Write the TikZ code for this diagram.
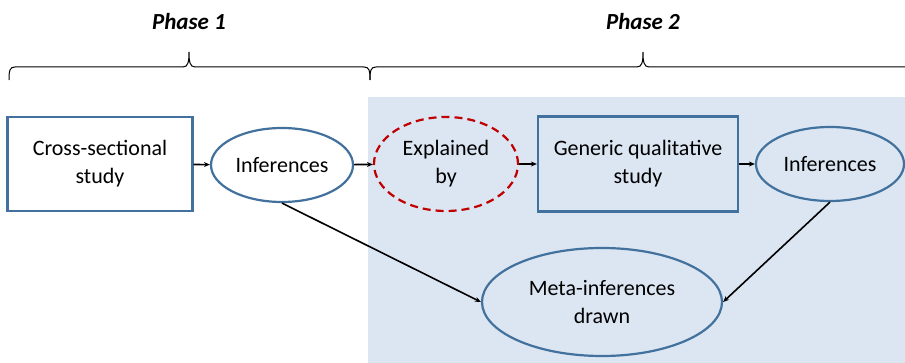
\documentclass[tikz,border=0pt]{standalone}
\usepackage{fontspec}
\setmainfont{Carlito}
\usetikzlibrary{positioning,shapes.geometric,arrows.meta}

\definecolor{shapeblue}{HTML}{41719C}
\definecolor{phaseshade}{HTML}{DCE6F2}
\definecolor{darkred}{HTML}{C00000}

% curly brace: left end, tip, right end (x values), line at y=-67
\newcommand{\phasebrace}[3]{%
  \draw[line width=1pt] (#1,-80) .. controls (#1,-70) and (#1+1,-67) .. (#1+6,-67)
    -- (#2-6,-67) .. controls (#2-1,-67) and (#2,-62) .. (#2,-52)
    .. controls (#2,-62) and (#2+1,-67) .. (#2+6,-67)
    -- (#3-6,-67) .. controls (#3-1,-67) and (#3,-70) .. (#3,-80);}

\begin{document}
\begin{tikzpicture}[x=1pt,y=1pt,
  font=\fontsize{22}{28}\selectfont,
  studybox/.style={rectangle, draw=shapeblue, line width=2.2pt, align=center, inner sep=0pt},
  result/.style={ellipse, draw=shapeblue, line width=2.2pt, align=center, inner sep=0pt},
  phase/.style={font=\fontsize{23}{28}\selectfont\bfseries\itshape},
  link/.style={-{Stealth[length=6pt,width=5pt]}, line width=1.6pt}]
\useasboundingbox (0,0) rectangle (905,-363);
\clip (0,0) rectangle (905,-363);
% shaded part of phase 2
\fill[phaseshade] (368,-97) rectangle (905,-363);

% phases
\phasebrace{9}{189}{370}
\phasebrace{370}{643}{916}
\node[phase] (phase1) at (189,-22) {Phase 1};
\node[phase] (phase2) at (643,-22) {Phase 2};

% studies and inferences
\node[studybox, fill=white, minimum width=185pt, minimum height=94pt] (cross) at (100,-164) {Cross-sectional\\study};
\node[result, fill=white, minimum width=142pt, minimum height=74pt] (inf1) at (282,-165) {Inferences};
\node[result, draw=darkred, dash pattern=on 8pt off 5pt, minimum width=144pt, minimum height=94pt] (expl) at (446,-164) {Explained\\by};
\node[studybox, minimum width=200pt, minimum height=95pt] (generic) at (638,-164) {Generic qualitative\\study};
\node[result, minimum width=148pt, minimum height=74pt] (inf2) at (830,-164) {Inferences};
\node[result, minimum width=240pt, minimum height=108pt] (meta) at (602,-302) {Meta-inferences\\drawn};

\draw[link] (cross) -- (inf1);
\draw[link] (inf1) -- (expl);
\draw[link] (expl) -- (generic);
\draw[link] (generic) -- (inf2);
\draw[link] (inf1.south) -- (meta.west);
\draw[link] (inf2.south) -- (meta.east);

\end{tikzpicture}
\end{document}
